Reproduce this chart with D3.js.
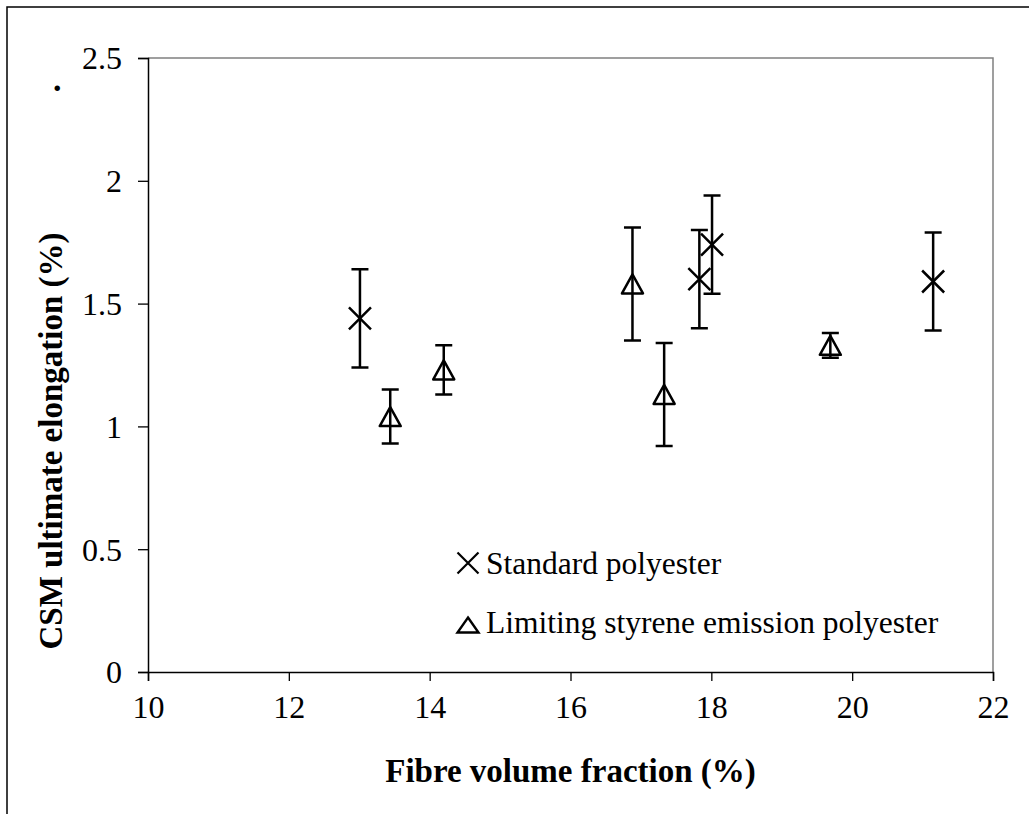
<!DOCTYPE html>
<html>
<head>
<meta charset="utf-8">
<script src="https://cdn.jsdelivr.net/npm/d3@7"></script>
<style>
  body { margin: 0; background: #fff; }
  svg text { font-family: "Liberation Serif", "Times New Roman", serif; fill: #000; }
</style>
</head>
<body>
<svg id="svg" width="1029" height="814"></svg>
<script>
// standard polyester (crosses)
const stdX = [13.01, 17.83, 18.01, 21.15]
const stdY = [1.44, 1.60, 1.74, 1.59]
const stdLo = [1.24, 1.40, 1.54, 1.39]
const stdHi = [1.64, 1.80, 1.94, 1.79]

// limiting styrene emission polyester (triangles)
const lseX = [13.44, 14.20, 16.88, 17.33, 19.69]
const lseY = [1.04, 1.23, 1.58, 1.13, 1.33]
const lseLo = [0.93, 1.13, 1.35, 0.92, 1.28]
const lseHi = [1.15, 1.33, 1.81, 1.34, 1.38]

const xTicks = [10, 12, 14, 16, 18, 20, 22]
const yTicks = [0, 0.5, 1, 1.5, 2, 2.5]
const seriesNames = ['Standard polyester', 'Limiting styrene emission polyester']

const svg = d3.select('#svg')

// outer frame (only left and top edges are inside the picture)
svg.append('rect')
  .attr('x', 7).attr('y', 7)
  .attr('width', 1040).attr('height', 830)
  .attr('fill', 'none').attr('stroke', '#000').attr('stroke-width', 1.5)

const plotL = 148, plotR = 993, plotT = 58, plotB = 672

const x = d3.scaleLinear().domain([10, 22]).range([plotL, plotR])
const y = d3.scaleLinear().domain([0, 2.5]).range([plotB, plotT])

// plot area border (grey top/right)
svg.append('path')
  .attr('d', `M${plotL},${plotT}H${plotR}V${plotB}`)
  .attr('fill', 'none').attr('stroke', '#808080').attr('stroke-width', 1.5)

const yAxis = svg.append('g')
  .attr('transform', `translate(${plotL},0)`)
  .call(d3.axisLeft(y).tickValues(yTicks).tickSize(10).tickPadding(16).tickFormat(d => String(d)))
const xAxis = svg.append('g')
  .attr('transform', `translate(0,${plotB})`)
  .call(d3.axisBottom(x).tickValues(xTicks).tickSize(9).tickPadding(14).tickFormat(d => String(d)))

for (const g of [xAxis, yAxis]) {
  g.select('.domain').attr('stroke', '#000').attr('stroke-width', 1.5)
  g.selectAll('.tick line').attr('stroke', '#000').attr('stroke-width', 1.3)
  g.selectAll('.tick text')
    .attr('font-family', '"Liberation Serif", serif')
    .attr('font-size', 32).attr('fill', '#000')
}
yAxis.selectAll('.tick text').attr('dy', '0.34em')
xAxis.selectAll('.tick text').attr('dy', '0.73em')

// axis titles
svg.append('text')
  .attr('x', (plotL + plotR) / 2).attr('y', 782)
  .attr('text-anchor', 'middle')
  .attr('font-size', 33).attr('font-weight', 'bold')
  .text('Fibre volume fraction (%)')

svg.append('text')
  .attr('transform', 'translate(62,441) rotate(-90)')
  .attr('text-anchor', 'middle')
  .attr('font-size', 33).attr('font-weight', 'bold')
  .text('CSM ultimate elongation (%)')

// stray dot
svg.append('text')
  .attr('x', 53).attr('y', 91)
  .attr('font-size', 34).attr('font-weight', 'bold')
  .text('.')

const capW = 8.5

function errorBars(xs, lo, hi) {
  const g = svg.append('g').attr('stroke', '#000').attr('stroke-width', 2.5).attr('fill', 'none')
  g.selectAll('.bar').data(xs).enter().append('path')
    .attr('d', (d, i) => {
      const cx = x(d), y0 = y(lo[i]), y1 = y(hi[i])
      return `M${cx},${y0}V${y1}M${cx - capW},${y0}H${cx + capW}M${cx - capW},${y1}H${cx + capW}`
    })
}

function crossPath(cx, cy, r) {
  return `M${cx - r},${cy - r}L${cx + r},${cy + r}M${cx - r},${cy + r}L${cx + r},${cy - r}`
}
function triPath(cx, cy, w, h) {
  return `M${cx},${cy - h / 2}L${cx + w / 2},${cy + h / 2}L${cx - w / 2},${cy + h / 2}Z`
}

errorBars(stdX, stdLo, stdHi)
errorBars(lseX, lseLo, lseHi)

svg.append('g').selectAll('path').data(stdX).enter().append('path')
  .attr('d', (d, i) => crossPath(x(d), y(stdY[i]), 11))
  .attr('stroke', '#000').attr('stroke-width', 2.5).attr('fill', 'none')

svg.append('g').selectAll('path').data(lseX).enter().append('path')
  .attr('d', (d, i) => triPath(x(d), y(lseY[i]), 21, 19))
  .attr('stroke', '#000').attr('stroke-width', 2.5).attr('fill', 'none')
  .attr('stroke-linejoin', 'round')

// legend
const legend = svg.append('g')
legend.append('path').attr('d', crossPath(468, 563, 10.5))
  .attr('stroke', '#000').attr('stroke-width', 2.2).attr('fill', 'none')
legend.append('path').attr('d', triPath(468, 625, 21, 15))
  .attr('stroke', '#000').attr('stroke-width', 2.4).attr('fill', 'none')
legend.selectAll('text').data(seriesNames).enter().append('text')
  .attr('x', 486).attr('y', (d, i) => [574, 633][i])
  .attr('font-size', 31.5)
  .text(d => d)
</script>
</body>
</html>
